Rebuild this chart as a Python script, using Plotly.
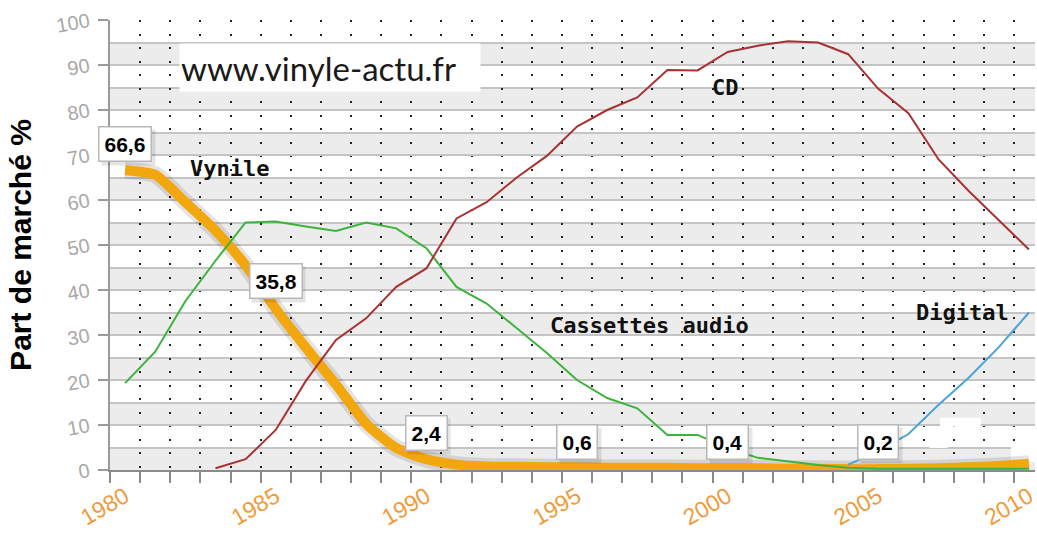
import plotly.graph_objects as go

years = list(range(1980, 2011))

vinyle = [66.6, 65.6, 59.5, 53.2, 45.5, 35.8, 27.2, 19.0, 10.3, 4.9, 2.4, 1.2, 0.8, 0.7, 0.6,
          0.6, 0.5, 0.5, 0.5, 0.4, 0.4, 0.4, 0.3, 0.3, 0.2, 0.2, 0.3, 0.4, 0.6, 0.9, 1.4]
cd = [None, None, None, 0.4, 2.4, 8.9, 19.8, 28.9, 33.7, 40.7, 44.8, 55.9, 59.5, 65.0, 69.8,
      76.3, 80.0, 82.8, 88.9, 88.8, 92.9, 94.3, 95.3, 95.0, 92.4, 84.7, 79.3, 69.0, 62.0, 55.5, 49.0]
cassettes = [19.3, 26.3, 37.5, 46.5, 55.0, 55.2, 54.1, 53.1, 55.0, 53.7, 49.3, 40.7, 37.0, 31.6, 26.0,
             20.0, 16.0, 13.7, 7.8, 7.8, 4.9, 2.7, 1.9, 1.1, 0.5, 0.3, 0.3, 0.3, 0.3, 0.3, 0.3]
digital = [None] * 24 + [1.2, 4.2, 8.0, 14.5, 20.5, 27.3, 35.0]

tick_years = [1980, 1985, 1990, 1995, 2000, 2005, 2010]
tick_text = [str(y) for y in tick_years]

# value call-outs (year, value shown)
callout_years = [1980, 1985, 1990, 1995, 2000, 2005]
callout_values = ["66,6", "35,8", "2,4", "0,6", "0,4", "0,2"]
callout_y = [72.4, 42.0, 8.2, 6.2, 6.2, 6.2]

series_names = ["Vynile", "CD", "Cassettes audio", "Digital"]
series_label_x = [1982.09, 1999.41, 1994.04, 2006.18]
series_label_y = [67.1, 85.1, 32.2, 34.9]

ORANGE = "#F3A70E"
RED = "#A83232"
GREEN = "#3DB33D"
BLUE = "#4BA3D8"

fig = go.Figure()

# vinyl shadow + line
fig.add_trace(go.Scatter(x=years, y=vinyle, mode="lines",
                         line=dict(color="rgba(0,0,0,0.11)", width=17, shape="spline", smoothing=0.6),
                         hoverinfo="skip"))
fig.add_trace(go.Scatter(x=years, y=vinyle, mode="lines", name="Vynile",
                         line=dict(color=ORANGE, width=10, shape="spline", smoothing=0.6)))
fig.add_trace(go.Scatter(x=years, y=cassettes, mode="lines", name="Cassettes audio",
                         line=dict(color=GREEN, width=2)))
fig.add_trace(go.Scatter(x=years, y=cd, mode="lines", name="CD",
                         line=dict(color=RED, width=2)))
fig.add_trace(go.Scatter(x=years, y=digital, mode="lines", name="Digital",
                         line=dict(color=BLUE, width=2)))
# invisible trace for label axis
fig.add_trace(go.Scatter(x=tick_years, y=[None] * len(tick_years), xaxis="x2",
                         mode="markers", marker=dict(opacity=0), hoverinfo="skip"))

shapes = []
for k in range(0, 100, 10):
    shapes.append(dict(type="rect", xref="paper", yref="y", x0=0, x1=1, y0=k, y1=k + 5,
                       fillcolor="#ECECEC", line=dict(width=0), layer="below"))
# small erased patches of the original image
for x0, x1, y0, y1 in [(2007.05, 2008.4, 9.6, 11.6), (2006.7, 2007.3, 4.9, 6.7),
                       (2009.4, 2010.2, 1.8, 5.3)]:
    shapes.append(dict(type="rect", xref="x", yref="y", x0=x0, x1=x1, y0=y0, y1=y1,
                       fillcolor="white", line=dict(width=0), layer="between"))

annotations = []
annotations.append(dict(text="www.vinyle-actu.fr", xref="paper", yref="paper", x=0.238, y=0.894,
                        xanchor="center", yanchor="middle",
                        width=298, height=45, align="left", bgcolor="white", showarrow=False,
                        font=dict(family="Lato", size=33, color="#1a1a1a")))
for yr, txt, yy in zip(callout_years, callout_values, callout_y):
    annotations.append(dict(text="<b>%s</b>" % txt, x=yr, y=yy, xref="x", yref="y", showarrow=False,
                            xshift=3, yshift=-3, bgcolor="rgba(0,0,0,0.10)", borderpad=6,
                            font=dict(family="Liberation Sans", size=21, color="rgba(0,0,0,0)")))
    annotations.append(dict(text="<b>%s</b>" % txt, x=yr, y=yy, xref="x", yref="y", showarrow=False,
                            bgcolor="white", bordercolor="#B8B8B8", borderwidth=1.5, borderpad=5,
                            font=dict(family="Liberation Sans", size=21, color="black")))
for name, lx, ly in zip(series_names, series_label_x, series_label_y):
    annotations.append(dict(text="<b>%s</b>" % name, x=lx, y=ly, xref="x", yref="y", showarrow=False,
                            xanchor="left", yanchor="middle",
                            font=dict(family="DejaVu Sans Mono", size=22, color="#111")))

fig.update_layout(
    width=1037, height=533,
    margin=dict(l=110, r=2, t=20, b=63, autoexpand=False),
    plot_bgcolor="white", paper_bgcolor="white",
    showlegend=False,
    shapes=shapes,
    annotations=annotations,
    xaxis=dict(range=[1979.5, 2010.2], tickmode="linear", tick0=1979.5, dtick=1,
               ticks="outside", ticklen=11, tickwidth=2, tickcolor="#8A8A8A",
               showticklabels=False, showgrid=True, gridcolor="#222", gridwidth=1.6,
               griddash="2px,11.5px", showline=True, linecolor="#8A8A8A", linewidth=2,
               zeroline=False, automargin=False),
    xaxis2=dict(overlaying="x", matches="x", anchor="y", side="bottom",
                tickmode="array", tickvals=tick_years, ticktext=tick_text, tickangle=-30,
                ticks="", showgrid=False, showline=False, zeroline=False,
                ticklabelstandoff=8, ticklabeloverflow="allow", automargin=False,
                tickfont=dict(family="Liberation Sans", size=23, color="#EF9B3C")),
    yaxis=dict(range=[0, 100], tickmode="linear", tick0=0, dtick=10,
               ticks="outside", ticklen=10, tickwidth=2, tickcolor="#9A9A9A",
               tickangle=-10, tickfont=dict(family="Liberation Sans", size=20, color="#A8A8A8"),
               ticklabelstandoff=5,
               showgrid=True, gridcolor="#C4C4C4", gridwidth=1.5,
               minor=dict(dtick=5, showgrid=True, gridcolor="#C4C4C4", gridwidth=1.5),
               showline=True, linecolor="#9A9A9A", linewidth=2, zeroline=False,
               automargin=False,
               title=dict(text="<b>Part de marché %</b>", standoff=14,
                          font=dict(family="Liberation Sans", size=30, color="black"))),
)

fig.write_html("out.html", config={"displayModeBar": False},
               post_script="document.body.style.margin='0';document.body.style.overflow='hidden';")
